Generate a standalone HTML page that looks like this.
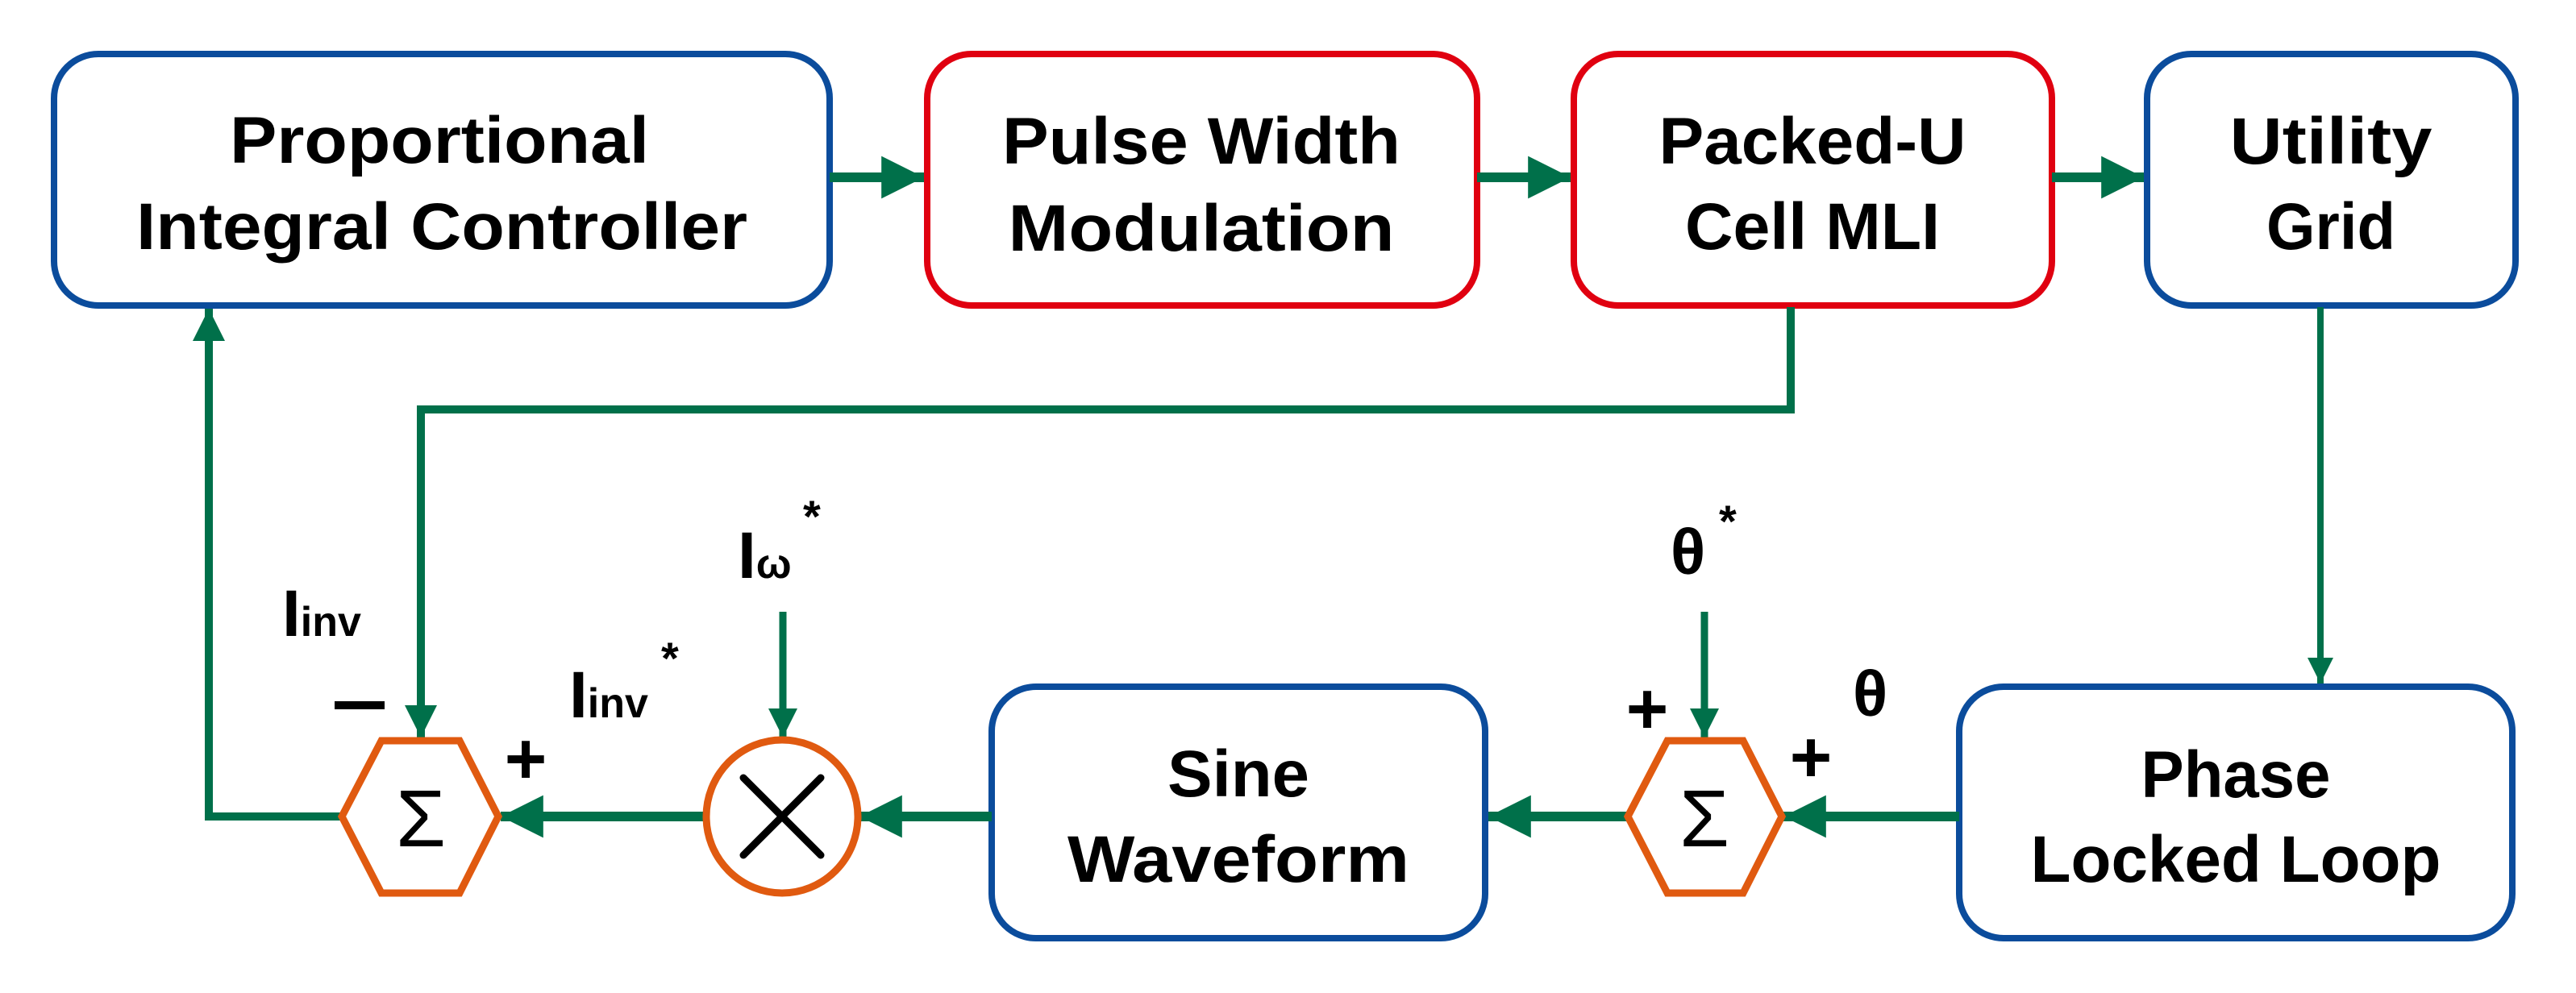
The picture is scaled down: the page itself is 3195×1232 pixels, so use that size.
<!DOCTYPE html>
<html><head><meta charset="utf-8"><style>
html,body{margin:0;padding:0;background:#fff}
svg{display:block}
text{font-family:"Liberation Sans",sans-serif;font-weight:bold;fill:#000}
</style></head><body>
<svg width="3195" height="1232" viewBox="0 0 3195 1232" xmlns="http://www.w3.org/2000/svg">
<defs>
<marker id="a" viewBox="0 0 10 10" refX="10" refY="5" markerWidth="4.4" markerHeight="5" markerUnits="strokeWidth" orient="auto"><path d="M0,0 L10,5 L0,10 Z" fill="#00704a"/></marker>
<marker id="b" viewBox="0 0 10 10" refX="10" refY="5" markerWidth="4" markerHeight="5" markerUnits="strokeWidth" orient="auto"><path d="M0,0 L10,5 L0,10 Z" fill="#00704a"/></marker>
</defs>
<g fill="#fff" stroke-width="8">
<rect x="67" y="67" width="962" height="312" rx="55" stroke="#0b4c9c"/>
<rect x="1150" y="67" width="682" height="312" rx="55" stroke="#e00010"/>
<rect x="1952" y="67" width="593" height="312" rx="55" stroke="#e00010"/>
<rect x="2663" y="67" width="457" height="312" rx="55" stroke="#0b4c9c"/>
<rect x="1230" y="852" width="612" height="312" rx="55" stroke="#0b4c9c"/>
<rect x="2430" y="852" width="686" height="312" rx="55" stroke="#0b4c9c"/>
</g>
<g font-size="82" text-anchor="middle" lengthAdjust="spacingAndGlyphs">
<text x="545" y="202" textLength="520" lengthAdjust="spacingAndGlyphs">Proportional</text>
<text x="548" y="309" textLength="758" lengthAdjust="spacingAndGlyphs">Integral Controller</text>
<text x="1490" y="203" textLength="494" lengthAdjust="spacingAndGlyphs">Pulse Width</text>
<text x="1490" y="311" textLength="479" lengthAdjust="spacingAndGlyphs">Modulation</text>
<text x="2248" y="203" textLength="381" lengthAdjust="spacingAndGlyphs">Packed-U</text>
<text x="2248" y="309" textLength="316" lengthAdjust="spacingAndGlyphs">Cell MLI</text>
<text x="2891" y="203" textLength="251" lengthAdjust="spacingAndGlyphs">Utility</text>
<text x="2891" y="309" textLength="160" lengthAdjust="spacingAndGlyphs">Grid</text>
<text x="1536" y="988" textLength="176" lengthAdjust="spacingAndGlyphs">Sine</text>
<text x="1536" y="1094" textLength="424" lengthAdjust="spacingAndGlyphs">Waveform</text>
<text x="2773" y="989" textLength="235" lengthAdjust="spacingAndGlyphs">Phase</text>
<text x="2773" y="1094" textLength="509" lengthAdjust="spacingAndGlyphs">Locked Loop</text>
</g>
<g stroke="#00704a" fill="none">
<line x1="1029" y1="220" x2="1146" y2="220" stroke-width="12" marker-end="url(#a)"/>
<line x1="1832" y1="220" x2="1948" y2="220" stroke-width="12" marker-end="url(#a)"/>
<line x1="2545" y1="220" x2="2659" y2="220" stroke-width="12" marker-end="url(#a)"/>
<polyline points="2221,381 2221,508 522,508 522,915" stroke-width="10" marker-end="url(#b)"/>
<polyline points="424,1013 259,1013 259,383" stroke-width="10" marker-end="url(#b)"/>
<line x1="2878" y1="381" x2="2878" y2="848" stroke-width="8" marker-end="url(#b)"/>
<line x1="2430" y1="1013" x2="2212" y2="1013" stroke-width="12" marker-end="url(#a)"/>
<line x1="2019" y1="1013" x2="1846" y2="1013" stroke-width="12" marker-end="url(#a)"/>
<line x1="1230" y1="1013" x2="1066" y2="1013" stroke-width="12" marker-end="url(#a)"/>
<line x1="875" y1="1013" x2="621" y2="1013" stroke-width="12" marker-end="url(#a)"/>
<line x1="2114" y1="759" x2="2114" y2="915" stroke-width="9" marker-end="url(#b)"/>
<line x1="971" y1="759" x2="971" y2="915" stroke-width="9" marker-end="url(#b)"/>
</g>
<g fill="#fff" stroke="#e05a10" stroke-width="9">
<polygon points="424,1013 473,919 570,919 618,1013 570,1108 473,1108"/>
<polygon points="2019,1013 2068,919 2162,919 2210,1013 2162,1108 2068,1108"/>
<ellipse cx="970" cy="1013" rx="94" ry="95"/>
</g>
<g stroke="#000" stroke-width="9" stroke-linecap="round">
<line x1="922" y1="965" x2="1018" y2="1061"/>
<line x1="1018" y1="965" x2="922" y2="1061"/>
</g>
<g font-weight="normal">
<text x="522" y="1050" font-size="100" text-anchor="middle" style="font-weight:normal">Σ</text>
<text x="2114" y="1050" font-size="100" text-anchor="middle" style="font-weight:normal">Σ</text>
</g>
<text x="350" y="789" font-size="82">I<tspan font-size="52">inv</tspan></text>
<text x="706" y="890" font-size="82">I<tspan font-size="52">inv</tspan></text>
<text x="820" y="836" font-size="56">*</text>
<text x="915" y="717" font-size="82">I<tspan font-size="52">ω</tspan></text>
<text x="996" y="660" font-size="56">*</text>
<text x="2072" y="712" font-size="80">θ</text>
<text x="2132" y="666" font-size="56">*</text>
<text x="2298" y="888" font-size="80">θ</text>
<rect x="415" y="870" width="62" height="10" fill="#000"/>
<text x="652" y="972" font-size="90" text-anchor="middle">+</text>
<text x="2043" y="910" font-size="90" text-anchor="middle">+</text>
<text x="2246" y="970" font-size="90" text-anchor="middle">+</text>
</svg>
</body></html>
